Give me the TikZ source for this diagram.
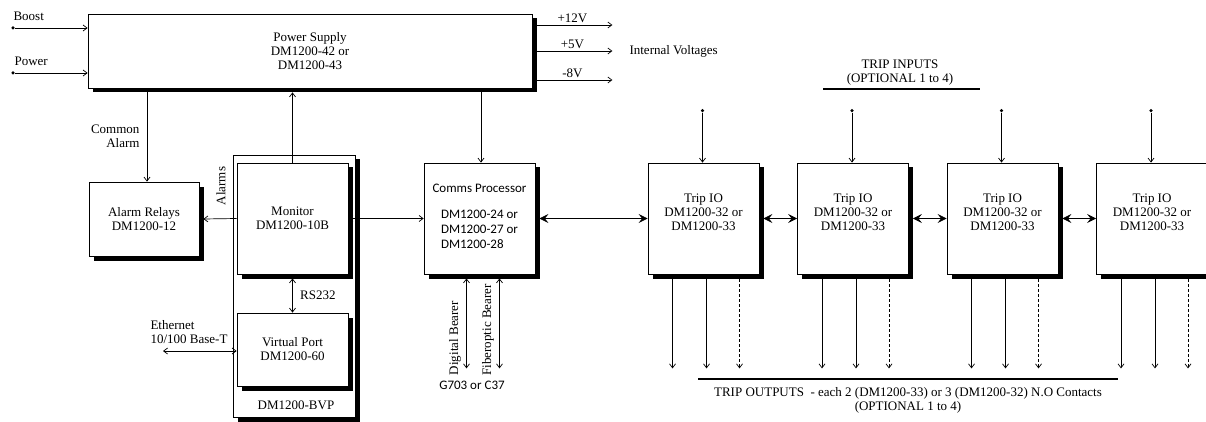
\documentclass[tikz,border=0pt]{standalone}
\usepackage{fontspec}
\setmainfont{Liberation Serif}
\newfontfamily\calfont{Carlito}
\usetikzlibrary{arrows.meta,calc}

\begin{document}
\begin{tikzpicture}[x=1pt,y=-1pt,
  every node/.style={font=\fontsize{13}{14}\selectfont},
  blk/.style={draw,line width=0.8pt,fill=white,inner sep=0pt,align=center,
    preaction={fill=black,transform canvas={xshift=4.5pt,yshift=-4.5pt}}},
  modbox/.style={blk,minimum width=111pt,minimum height=111pt},
  con/.style={line width=0.7pt,-{Straight Barb[length=4pt,width=6pt]}},
  bicon/.style={line width=0.7pt,{Straight Barb[length=4pt,width=6pt]}-{Straight Barb[length=4pt,width=6pt]}},
  bus/.style={line width=0.7pt,{Stealth[length=9pt,width=9pt,inset=3.5pt]}-{Stealth[length=9pt,width=9pt,inset=3.5pt]}},
  bar/.style={line width=2.5pt},
  optline/.style={dash pattern=on 3pt off 2pt},
  pin/.style={circle,fill,inner sep=0pt,minimum size=3.5pt}]
  \useasboundingbox (0,0) rectangle (1206,422);

  % blocks
  \node[blk,minimum width=444pt,minimum height=74pt] (psu) at (310,51)
    {Power Supply\\DM1200-42 or\\DM1200-43};
  \node[blk,minimum width=110pt,minimum height=74pt] (alarm) at (144,219)
    {Alarm Relays\\DM1200-12};
  \node[blk,minimum width=122pt,minimum height=262pt] (bvp) at (294,286) {};
  \node at (296,405) (bvplbl) {DM1200-BVP};
  \node[modbox] (mon) at (292.5,218.5) {Monitor\\DM1200-10B};
  \node[blk,minimum width=111pt,minimum height=73pt] (vport) at (292.5,349.5)
    {Virtual Port\\DM1200-60};
  \node[modbox,font={\calfont\fontsize{13}{15}\selectfont}] (comms) at (479.5,218.5)
    {Comms Processor\\[15pt]\begin{tabular}{@{}l@{}}DM1200-24 or\\DM1200-27 or\\DM1200-28\end{tabular}};
  \foreach \k in {1,...,4}
    \node[modbox] (trip\k) at ({703.5+149.5*(\k-1)},218.5)
      {Trip IO\\DM1200-32 or\\DM1200-33\\[-2pt]\mbox{}};

  % power inputs
  \node[pin] (boost) at (13,28) {};
  \node[pin] (power) at (13,73) {};
  \node[anchor=west] (boostlbl) at (10,16) {Boost};
  \node[anchor=west] (powerlbl) at (11,61) {Power};
  \draw[con] (boost) -- (boost -| psu.west);
  \draw[con] (power) -- (power -| psu.west);

  % internal voltages
  \draw[con] ([yshift=26pt]psu.east) -- ++(80,0) node[midway,above=-1pt] (v12) {+12V};
  \draw[con] (psu.east) -- ++(80,0) node[midway,above=-1pt] (v5) {+5V};
  \draw[con] ([yshift=-29pt]psu.east) -- ++(80,0) node[midway,above=-1pt] (v8) {-8V};
  \node[anchor=west] (intv) at (626,51) {Internal Voltages};

  % alarms and monitor
  \coordinate (calm) at ($(alarm.north)+(3,0)$);
  \draw[con] (calm |- psu.south) -- (calm);
  \node[anchor=east,align=right] (comlbl) at (143,136) {Common\\Alarm};
  \draw[con] (mon.west) -- ($(alarm.east)+(4,0)$);
  \node[rotate=90] (alarmslbl) at (221,186) {Alarms};
  \draw[con] (mon.north) -- ($(mon.north |- psu.south)+(0,4)$);
  \draw[bicon] ($(mon.south)+(0,4)$) -- (vport.north)
    node[midway,right=4pt] (rslbl) {RS232};
  \coordinate (eth) at (163,351);
  \draw[bicon] (eth) -- (eth -| vport.west);
  \node[anchor=west,align=left] (ethlbl) at (147,332) {Ethernet\\10/100 Base-T};

  % comms processor
  \draw[bicon] (mon.east) -- (comms.west);
  \coordinate (cin) at ($(comms.north)+(1.5,0)$);
  \draw[con] ($(cin |- psu.south)+(0,4)$) -- (cin);
  \coordinate (dig) at ($(comms.south)+(-13,94)$);
  \coordinate (fib) at ($(comms.south)+(20,94)$);
  \draw[bicon] ($(comms.south)+(-13,4)$) -- (dig);
  \draw[bicon] ($(comms.south)+(20,4)$) -- (fib);
  \node[rotate=90] (diglbl) at (455,338) {Digital Bearer};
  \node[rotate=90] (fiblbl) at (488,330) {Fiberoptic Bearer};
  \node[font={\calfont\fontsize{13}{14}\selectfont}] (g703) at (472,385) {G703 or C37};

  % trip IO bus
  \draw[bus] ($(comms.east)+(4,0)$) -- (trip1.west);
  \foreach \a/\b in {1/2,2/3,3/4}
    \draw[bus] ($(trip\a.east)+(4,0)$) -- (trip\b.west);

  % trip inputs and outputs
  \foreach \k in {1,...,4}{
    \node[pin] (in\k) at ($(trip\k.north)+(-1,-52)$) {};
    \draw[con] (in\k) -- (in\k |- trip\k.north);
    \foreach \dx/\sty in {-31/solid,3/solid,36/optline}
      \draw[con,\sty] ($(trip\k.south)+(\dx,0)$) -- ++(0,94);
  }
  \node[align=center] (tin) at (900,73) {TRIP INPUTS\\(OPTIONAL 1 to 4)};
  \draw[bar] (823,89) -- (980,89);
  \draw[bar] (698,379) -- (1118,379);
  \node[align=center] (tout) at (908,400)
    {TRIP OUTPUTS\enspace- each 2 (DM1200-33) or 3 (DM1200-32) N.O Contacts\\(OPTIONAL 1 to 4)};
\end{tikzpicture}
\end{document}
